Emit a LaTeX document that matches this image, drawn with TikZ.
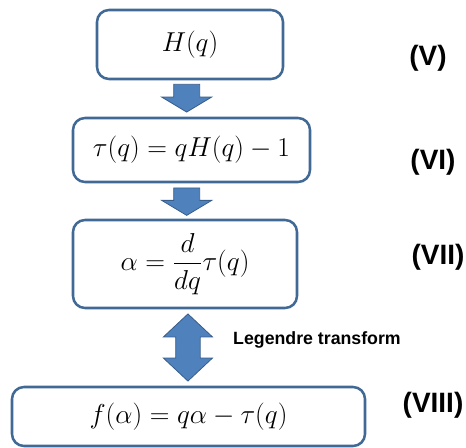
\RequirePackage{fix-cm}
\documentclass[tikz,border=0pt]{standalone}
\usepackage{amsmath,fontspec}
\setsansfont{Liberation Sans}
\usetikzlibrary{calc,positioning}
\definecolor{boxline}{RGB}{65,105,150}
\definecolor{arrowfill}{RGB}{79,129,189}
\definecolor{arrowline}{RGB}{56,93,138}
\tikzset {
  every node/.style={font=\fontsize{20.5}{24}\selectfont},
  stagebox/.style={draw=boxline, line width=1.9pt, rounded corners=9pt, inner sep=0pt},
  stagelabel/.style={font=\sffamily\bfseries\fontsize{21}{24}\selectfont},
  downarrow/.style={draw=arrowline, fill=arrowfill, line width=0.6pt,
    to path={let \p1=(\tikztostart), \p2=(\tikztotarget) in
      (\x1-9.75pt,\y1) -- (\x1-9.75pt,\y2+11.25pt) -- (\x1-18.75pt,\y2+11.25pt)
      -- (\x1,\y2) -- (\x1+18.75pt,\y2+11.25pt) -- (\x1+9.75pt,\y2+11.25pt)
      -- (\x1+9.75pt,\y1) -- cycle}},
  botharrow/.style={draw=arrowline, fill=arrowfill, line width=0.6pt,
    to path={let \p1=(\tikztostart), \p2=(\tikztotarget) in
      (\x1,\y1) -- (\x1+18.4pt,\y1-17.25pt) -- (\x1+9.2pt,\y1-17.25pt)
      -- (\x1+9.2pt,\y2+17.25pt) -- (\x1+18.4pt,\y2+17.25pt) -- (\x1,\y2)
      -- (\x1-18.4pt,\y2+17.25pt) -- (\x1-9.2pt,\y2+17.25pt)
      -- (\x1-9.2pt,\y1-17.25pt) -- (\x1-18.4pt,\y1-17.25pt) -- cycle}},
}

\begin{document}
\begin{tikzpicture}[x=0.75pt,y=-0.75pt]
  \useasboundingbox (0,0) rectangle (466,448);

  \node[stagebox, minimum width=139.5pt, minimum height=51.75pt] (hq) at (190,44.5) {$H(q)$};
  \node[stagebox, minimum width=177.75pt, minimum height=48pt] (tau) at (191.5,150) {$\tau(q) = qH(q) - 1$};
  \node[stagebox, minimum width=168pt, minimum height=66pt] (alpha) at (185,264) {$\displaystyle\alpha = \frac{d}{dq}\tau(q)$};
  \node[stagebox, minimum width=264.75pt, minimum height=44.25pt] (falpha) at (188.5,416.5) {$f(\alpha) = q\alpha - \tau(q)$};

  \draw[downarrow] ([xshift=-2.5pt,yshift=-3pt]hq.south) to ([xshift=-3.6pt,yshift=3.5pt]tau.north);
  \draw[downarrow] ([xshift=-3.6pt,yshift=-3.5pt]tau.south) to ([xshift=2pt,yshift=2.5pt]alpha.north);
  \draw[botharrow] ([xshift=2.2pt,yshift=-3.5pt]alpha.south) to ([xshift=-0.4pt,yshift=3.5pt]falpha.north);

  \node[font=\sffamily\bfseries\fontsize{13.3}{15}\selectfont] (legendre) at (317,340) {Legendre transform};

  \node[stagelabel] (lv) at (428,58) {(V)};
  \node[stagelabel] (lvi) at (433,162) {(VI)};
  \node[stagelabel] (lvii) at (438,257) {(VII)};
  \node[stagelabel] (lviii) at (433,405) {(VIII)};
\end{tikzpicture}
\end{document}
